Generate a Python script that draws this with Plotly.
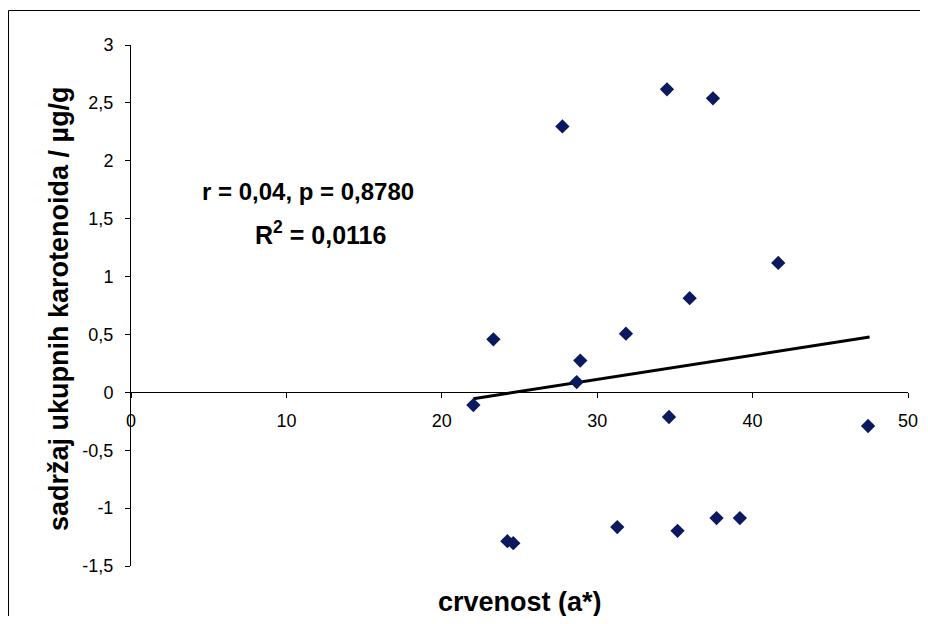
import plotly.graph_objects as go

# ---- data ----
crvenost = [22.03, 23.32, 24.22, 24.60, 27.76, 28.68, 28.91, 31.29, 31.85,
            34.49, 34.62, 35.17, 35.95, 37.45, 37.68, 39.18, 41.65, 47.43]
karotenoidi = [-0.110, 0.458, -1.286, -1.303, 2.297, 0.089, 0.274, -1.164, 0.507,
               2.617, -0.213, -1.196, 0.813, 2.539, -1.086, -1.086, 1.118, -0.291]
trend_slope = 0.0209
trend_intercept = -0.515

x_ticks = [0, 10, 20, 30, 40, 50]
y_ticks = [-1.5, -1, -0.5, 0, 0.5, 1, 1.5, 2, 2.5, 3]
y_ticklabels = ["-1,5", "-1", "-0,5", "0", "0,5", "1", "1,5", "2", "2,5", "3"]
x_range = [0, 50]
y_range = [-1.5, 3]

annot_line1 = "r = 0,04, p = 0,8780"
annot_line2 = "R<sup>2</sup> = 0,0116"
x_title = "crvenost (a*)"
y_title = "sadržaj ukupnih karotenoida / µg/g"

# ---- layout geometry (page has an 8px body margin) ----
OFF = 8
W, H = 912, 608
L, R, T, B = 123, 12, 37, 50
pw, ph = W - L - R, H - T - B

def px_x(p):
    return (p - OFF - L) / pw

def px_y(p):
    return (H - B - (p - OFF)) / ph

FONT = "Liberation Sans, Arial, sans-serif"

tx = [min(crvenost), max(crvenost) + 0.1]
ty = [trend_intercept + trend_slope * v for v in tx]

fig = go.Figure()
fig.add_trace(go.Scatter(
    x=tx, y=ty, mode="lines",
    line=dict(color="black", width=3), showlegend=False, hoverinfo="skip"))
fig.add_trace(go.Scatter(
    x=crvenost, y=karotenoidi, mode="markers",
    marker=dict(symbol="diamond", size=11, color="#0b1a5e"),
    showlegend=False))

zero_pos = (0 - y_range[0]) / (y_range[1] - y_range[0])

fig.update_layout(
    width=W, height=H,
    margin=dict(l=L, r=R, t=T, b=B, autoexpand=False),
    paper_bgcolor="white", plot_bgcolor="white",
    font=dict(family=FONT, color="black", size=18),
    xaxis=dict(range=x_range, tickvals=x_ticks, ticks="outside", ticklen=5,
               tickcolor="black", showline=True, linecolor="black", linewidth=1,
               showgrid=False, zeroline=False, anchor="free", position=zero_pos,
               automargin=False,
               tickfont=dict(size=18, family=FONT), ticklabelstandoff=7),
    yaxis=dict(range=y_range, tickvals=y_ticks, ticktext=y_ticklabels,
               ticks="outside", ticklen=5, tickcolor="black",
               showline=True, linecolor="black", linewidth=1,
               showgrid=False, zeroline=False, automargin=False,
               tickfont=dict(size=18, family=FONT), ticklabelstandoff=8),
    annotations=[
        dict(text="<b>" + annot_line1 + "</b>", x=px_x(307.5), y=px_y(191.7),
             xref="paper", yref="paper", showarrow=False,
             font=dict(size=24, family=FONT), xanchor="center", yanchor="middle"),
        dict(text="<b>" + annot_line2 + "</b>", x=px_x(320), y=px_y(233),
             xref="paper", yref="paper", showarrow=False,
             font=dict(size=25, family=FONT), xanchor="center", yanchor="middle"),
        dict(text="<b>" + x_title + "</b>", x=px_x(519.5), y=px_y(602),
             xref="paper", yref="paper", showarrow=False,
             font=dict(size=27, family=FONT), xanchor="center", yanchor="middle"),
        dict(text="<b>" + y_title + "</b>", x=px_x(59), y=px_y(309),
             xref="paper", yref="paper", showarrow=False, textangle=-90,
             font=dict(size=27, family=FONT), xanchor="center", yanchor="middle"),
    ],
    shapes=[
        dict(type="rect", xref="paper", yref="paper",
             x0=px_x(8.5), x1=px_x(940), y0=px_y(10.5), y1=px_y(660),
             line=dict(color="black", width=1), fillcolor="rgba(0,0,0,0)",
             layer="below"),
    ],
)

fig.write_html("out.html")
